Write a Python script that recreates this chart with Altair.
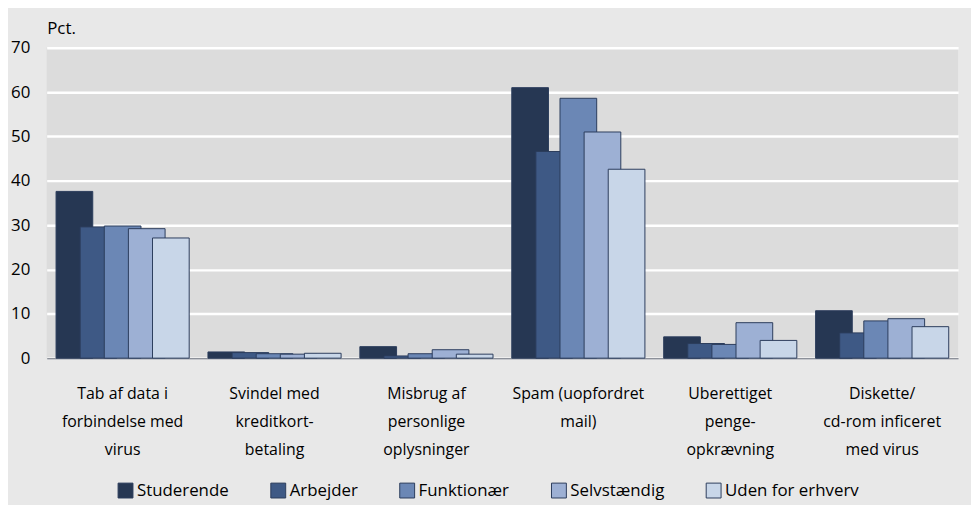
import altair as alt
import pandas as pd

categories = [
    "Tab af data i\nforbindelse med\nvirus",
    "Svindel med\nkreditkort-\nbetaling",
    "Misbrug af\npersonlige\noplysninger",
    "Spam (uopfordret\nmail)",
    "Uberettiget\npenge-\nopkrævning",
    "Diskette/\ncd-rom inficeret\nmed virus",
]
series = ["Studerende", "Arbejder", "Funktionær", "Selvstændig", "Uden for erhverv"]
colors = ["#263753", "#3e5985", "#6b87b5", "#9db0d4", "#c8d6e8"]

studerende = [37.6, 1.4, 2.6, 61.0, 4.8, 10.7]
arbejder = [29.6, 1.25, 0.5, 46.6, 3.3, 5.7]
funktionaer = [29.8, 1.0, 1.0, 58.6, 3.1, 8.4]
selvstaendig = [29.2, 0.9, 1.9, 51.0, 8.0, 8.9]
uden = [27.1, 1.1, 0.9, 42.6, 4.0, 7.1]

y_ticks = [0, 10, 20, 30, 40, 50, 60, 70]

rows = []
for s, vals in zip(series, [studerende, arbejder, funktionaer, selvstaendig, uden]):
    for c, v in zip(categories, vals):
        rows.append({"kategori": c, "gruppe": s, "pct": v})
df = pd.DataFrame(rows)

FONT = "Open Sans"

chart = alt.Chart(df).mark_bar(
    width=37, stroke="#2c3d5c", strokeWidth=1
).encode(
    x=alt.X(
        "kategori:N",
        sort=categories,
        scale=alt.Scale(paddingInner=0, paddingOuter=0),
        axis=alt.Axis(
            title=None,
            labelAngle=0,
            labelExpr="split(datum.label, '\\n')",
            labelFontSize=16,
            labelLineHeight=28,
            labelPadding=28,
            labelColor="#000000",
            labelFont=FONT,
            ticks=False,
            domainColor="#8c9099",
            domainWidth=1.5,
            grid=False,
        ),
    ),
    xOffset=alt.XOffset(
        "gruppe:N", sort=series, scale=alt.Scale(paddingOuter=0.65, paddingInner=0)
    ),
    y=alt.Y(
        "pct:Q",
        scale=alt.Scale(domain=[0, 70], nice=False),
        axis=alt.Axis(
            title="Pct.",
            titleAngle=0,
            titleAlign="left",
            titleBaseline="bottom",
            titleX=0,
            titleY=-10,
            titleFont=FONT,
            titleFontSize=17,
            titleFontWeight="normal",
            titleColor="#000000",
            values=y_ticks,
            labelFontSize=17,
            labelFont=FONT,
            labelColor="#000000",
            labelPadding=17,
            ticks=False,
            domain=False,
            gridColor="#ffffff",
            gridWidth=2.5,
        ),
    ),
    color=alt.Color(
        "gruppe:N",
        sort=series,
        scale=alt.Scale(domain=series, range=colors),
        legend=alt.Legend(
            title=None,
            orient="none",
            direction="horizontal",
            legendX=71,
            legendY=438,
            symbolType="square",
            symbolSize=225,
            symbolStrokeColor="#2c3d5c",
            symbolStrokeWidth=1,
            symbolOpacity=1,
            labelFontSize=17,
            labelFont=FONT,
            labelColor="#000000",
            labelOffset=3,
            columnPadding=40,
        ),
    ),
).properties(
    width=919,
    height=313,
    autosize=alt.AutoSizeParams(type="none"),
    padding={"left": 39, "top": 38, "right": 13, "bottom": 146},
).configure(
    background="#e8e8e8",
).configure_view(
    fill="#dcdcdc",
    stroke=None,
)

chart.save("out.html", embed_options={"renderer": "svg", "actions": False})
